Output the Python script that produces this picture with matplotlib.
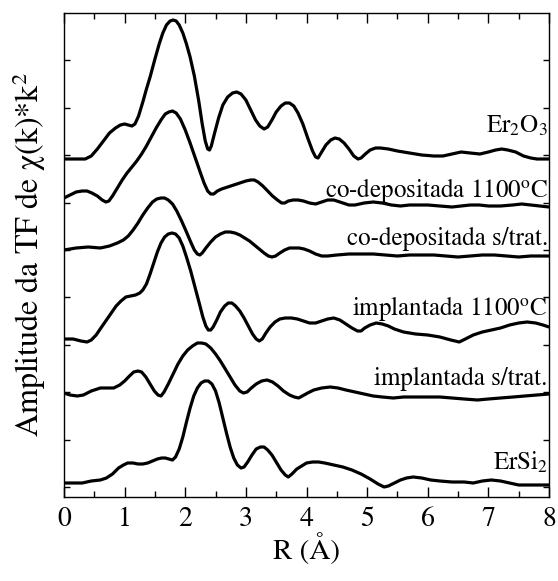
import matplotlib
matplotlib.use("Agg")
import matplotlib.pyplot as plt
from matplotlib.ticker import MultipleLocator, FixedLocator

plt.rcParams['font.family'] = ['STIXGeneral', 'Liberation Serif', 'DejaVu Serif']
plt.rcParams['mathtext.fontset'] = 'stix'

# ---- data (R in Angstrom; amplitudes read as pixel rows, stacked curves) ----
er2o3_r = [0, 0.2, 0.35, 0.45, 0.55, 0.65, 0.75, 0.85, 0.93, 1.0, 1.06, 1.12, 1.17, 1.23, 1.3, 1.36,
           1.42, 1.5, 1.57, 1.63, 1.69, 1.75, 1.8, 1.85, 1.9, 1.96, 2.02, 2.08, 2.15, 2.22, 2.28, 2.33,
           2.37, 2.40, 2.43, 2.48, 2.55, 2.62, 2.7, 2.78, 2.85, 2.92, 3.0, 3.08, 3.16, 3.23, 3.3, 3.36,
           3.43, 3.5, 3.58, 3.65, 3.72, 3.79, 3.86, 3.94, 4.02, 4.1, 4.15, 4.19, 4.24, 4.32, 4.4, 4.47,
           4.54, 4.62, 4.7, 4.78, 4.85, 4.9, 4.97, 5.05, 5.14, 5.22, 5.35, 5.5, 5.7, 5.9, 6.1, 6.25,
           6.4, 6.55, 6.7, 6.86, 7.0, 7.12, 7.22, 7.32, 7.45, 7.58, 7.7, 7.8, 8.0]
er2o3_py = [159, 159, 159, 156, 149, 141, 133, 128, 125, 124, 125, 126, 124, 116, 102, 89,
            77, 59, 44, 33, 25, 21, 20, 21, 25, 33, 44, 57, 76, 100, 124, 141,
            149, 150, 146, 134, 118, 105, 97, 93, 92, 94, 100, 110, 120, 126, 129, 127,
            120, 112, 106, 103, 103, 106, 113, 124, 138, 151, 157, 158, 153, 145, 140, 138,
            139, 143, 149, 156, 159, 158, 154, 150, 148, 148, 149, 151, 153, 155, 156, 156,
            154, 152, 153, 154, 152, 150, 149, 150, 152, 156, 158, 159, 159]

codep1100_r = [0, 0.1, 0.2, 0.3, 0.38, 0.46, 0.55, 0.63, 0.69, 0.74, 0.8, 0.88, 0.96, 1.04, 1.12, 1.2,
               1.28, 1.36, 1.44, 1.52, 1.6, 1.67, 1.73, 1.79, 1.85, 1.92, 2.0, 2.08, 2.16, 2.24, 2.31,
               2.37, 2.42, 2.47, 2.53, 2.6, 2.7, 2.8, 2.9, 3.0, 3.08, 3.14, 3.2, 3.28, 3.36, 3.44, 3.52,
               3.59, 3.64, 3.7, 3.78, 3.86, 3.95, 4.05, 4.15, 4.25, 4.35, 4.45, 4.55, 4.7, 4.8, 4.95,
               5.1, 5.25, 5.4, 5.55, 5.7, 5.85, 6.0, 6.2, 6.4, 6.55, 6.7, 6.85, 7.0, 7.2, 7.4, 7.55,
               7.7, 7.85, 8.0]
codep1100_py = [198, 195, 192, 191, 191, 193, 196, 200, 202, 201, 196, 188, 180, 173, 167, 161,
                154, 146, 137, 128, 120, 114, 112, 111, 113, 119, 130, 143, 157, 171, 183,
                191, 194, 194, 191, 189, 187, 185, 183, 181, 180, 180, 182, 186, 191, 196, 200,
                203, 203, 201, 200, 200, 201, 203, 204, 202, 200, 200, 202, 205, 205, 203,
                202, 203, 205, 206, 205, 205, 205, 206, 207, 206, 205, 205, 206, 206, 205, 204,
                205, 206, 207]

codepst_r = [0, 0.2, 0.4, 0.6, 0.75, 0.88, 0.98, 1.06, 1.14, 1.22, 1.3, 1.38, 1.46, 1.53, 1.6, 1.66,
             1.72, 1.79, 1.86, 1.94, 2.02, 2.09, 2.15, 2.2, 2.24, 2.28, 2.34, 2.42, 2.5, 2.58, 2.66,
             2.74, 2.82, 2.9, 2.98, 3.06, 3.14, 3.22, 3.3, 3.37, 3.43, 3.49, 3.56, 3.64, 3.72, 3.8,
             3.88, 3.96, 4.05, 4.15, 4.25, 4.35, 4.5, 4.7, 4.9, 5.1, 5.3, 5.5, 5.7, 5.9, 6.1, 6.3,
             6.5, 6.7, 6.9, 7.1, 7.3, 7.5, 7.7, 7.85, 8.0]
codepst_py = [250, 248, 247, 248, 246, 243, 240, 236, 230, 223, 215, 208, 202, 199, 198, 198,
              200, 204, 211, 221, 232, 242, 250, 254, 255, 253, 248, 242, 237, 234, 232,
              232, 233, 235, 238, 241, 245, 249, 253, 256, 257, 256, 253, 250, 248, 248,
              248, 249, 251, 254, 256, 256, 255, 254, 254, 254, 255, 256, 255, 255, 255, 256,
              257, 256, 255, 255, 256, 257, 256, 256, 256]

impl1100_r = [0, 0.15, 0.28, 0.38, 0.45, 0.53, 0.62, 0.7, 0.78, 0.86, 0.94, 1.02, 1.1, 1.18, 1.25, 1.3,
              1.36, 1.42, 1.48, 1.54, 1.6, 1.66, 1.72, 1.78, 1.84, 1.9, 1.96, 2.02, 2.09, 2.16, 2.23,
              2.29, 2.34, 2.38, 2.42, 2.46, 2.52, 2.58, 2.65, 2.71, 2.77, 2.83, 2.9, 2.97, 3.04, 3.11,
              3.17, 3.22, 3.27, 3.33, 3.4, 3.48, 3.56, 3.65, 3.75, 3.85, 3.95, 4.05, 4.15, 4.25, 4.35,
              4.45, 4.55, 4.65, 4.75, 4.84, 4.9, 4.96, 5.05, 5.15, 5.25, 5.35, 5.45, 5.6, 5.8, 6.0,
              6.2, 6.38, 6.52, 6.62, 6.75, 6.9, 7.05, 7.2, 7.35, 7.5, 7.64, 7.78, 7.9, 8.0]
impl1100_py = [339, 339, 341, 342, 340, 335, 327, 320, 313, 306, 301, 297, 296, 295, 293, 290,
               284, 274, 263, 252, 243, 237, 234, 233, 234, 238, 246, 257, 271, 287, 303,
               317, 326, 330, 330, 327, 320, 312, 306, 303, 303, 306, 311, 318, 326, 334,
               339, 341, 339, 333, 327, 322, 319, 318, 318, 319, 321, 323, 323, 321, 319,
               318, 320, 324, 328, 331, 331, 328, 325, 323, 324, 326, 329, 332, 334, 335,
               337, 340, 342, 339, 335, 332, 330, 328, 325, 323, 322, 323, 325, 327]

implst_r = [0, 0.1, 0.22, 0.32, 0.45, 0.6, 0.72, 0.82, 0.92, 1.0, 1.08, 1.15, 1.22, 1.28, 1.35, 1.42,
            1.49, 1.55, 1.6, 1.65, 1.72, 1.8, 1.88, 1.96, 2.04, 2.12, 2.2, 2.27, 2.34, 2.42, 2.5,
            2.58, 2.66, 2.74, 2.82, 2.9, 2.96, 3.02, 3.09, 3.17, 3.26, 3.35, 3.44, 3.53, 3.62, 3.72,
            3.8, 3.87, 3.93, 4.02, 4.12, 4.25, 4.39, 4.52, 4.65, 4.8, 4.95, 5.1, 5.25, 5.43, 5.6,
            5.8, 6.0, 6.2, 6.4, 6.6, 6.82, 7.0, 7.2, 7.41, 7.6, 7.8, 8.0]
implst_py = [393, 395, 396, 395, 391, 388, 388, 388, 385, 381, 376, 372, 371, 372, 377, 384,
             391, 395, 396, 392, 384, 374, 364, 356, 350, 346, 343, 343, 344, 348, 354,
             361, 369, 377, 385, 391, 393, 392, 388, 384, 381, 380, 382, 386, 391, 395,
             397, 398, 396, 393, 390, 388, 387, 388, 390, 392, 394, 396, 397, 398, 397,
             397, 397, 397, 398, 399, 400, 399, 398, 397, 396, 395, 394]

ersi2_r = [0, 0.15, 0.3, 0.45, 0.6, 0.7, 0.8, 0.9, 0.98, 1.05, 1.14, 1.22, 1.3, 1.38, 1.46, 1.54, 1.61,
           1.67, 1.73, 1.79, 1.84, 1.9, 1.96, 2.02, 2.08, 2.14, 2.2, 2.26, 2.32, 2.38, 2.44, 2.5, 2.56,
           2.62, 2.68, 2.74, 2.8, 2.86, 2.92, 2.97, 3.03, 3.1, 3.17, 3.24, 3.3, 3.36, 3.43, 3.5, 3.58,
           3.65, 3.7, 3.76, 3.84, 3.92, 4.0, 4.1, 4.2, 4.3, 4.45, 4.6, 4.75, 4.9, 5.05, 5.18, 5.28,
           5.35, 5.45, 5.55, 5.65, 5.76, 5.9, 6.05, 6.2, 6.4, 6.6, 6.75, 6.9, 7.05, 7.2, 7.35, 7.5,
           7.7, 8.0]
ersi2_py = [483, 483, 483, 481, 480, 478, 474, 468, 465, 463, 463, 464, 464, 463, 461, 459, 458,
            458, 459, 460, 457, 449, 437, 422, 408, 396, 388, 383, 381, 381, 384, 391, 403,
            418, 433, 447, 458, 465, 468, 467, 462, 455, 449, 447, 447, 450, 455, 462, 470,
            475, 477, 474, 469, 466, 463, 462, 462, 463, 465, 467, 470, 474, 479, 484, 487,
            486, 483, 480, 478, 477, 478, 480, 481, 482, 482, 483, 481, 480, 481, 483, 485,
            485, 485]

labels = [r'Er$_2$O$_3$', r'co-depositada 1100$^{\rm o}$C', 'co-depositada s/trat.',
          r'implantada 1100$^{\rm o}$C', 'implantada s/trat.', r'ErSi$_2$']
label_base_py = [133, 197, 245, 315, 385, 470]
xticks = [0, 1, 2, 3, 4, 5, 6, 7, 8]

BOTTOM = 497  # pixel row of the x axis, used to turn read-off rows into heights


def h(vals):
    return [BOTTOM - v for v in vals]


series = [(er2o3_r, er2o3_py), (codep1100_r, codep1100_py), (codepst_r, codepst_py),
          (impl1100_r, impl1100_py), (implst_r, implst_py), (ersi2_r, ersi2_py)]

fig = plt.figure(figsize=(5.58, 5.81), dpi=100)
ax = fig.add_axes([64 / 558, 1 - 497 / 581, (549 - 64) / 558, (497 - 13) / 581])

for r, py in series:
    ax.plot(r, h(py), color='black', lw=2.3, solid_joinstyle='round', solid_capstyle='round')

for lab, b in zip(labels, label_base_py):
    ax.text(7.98, BOTTOM - b, lab, ha='right', va='baseline', fontsize=18)

ax.set_xlim(0, 8)
ax.set_ylim(0, 484)
ax.set_xticks(xticks)
ax.xaxis.set_minor_locator(MultipleLocator(0.5))
ax.yaxis.set_major_locator(FixedLocator([10 + 47.4 * k for k in range(10)]))
ax.set_yticklabels([])
ax.tick_params(axis='x', which='major', direction='in', length=7, width=1, top=True,
               labelsize=20, pad=7)
ax.tick_params(axis='x', which='minor', direction='in', length=4, width=1, top=True)
ax.tick_params(axis='y', which='major', direction='in', length=4, width=1, right=True)
for s in ax.spines.values():
    s.set_linewidth(1.0)

ax.set_xlabel('R (Å)', fontsize=21, labelpad=1)
ax.set_ylabel('Amplitude da TF de χ(k)*k$^2$', fontsize=23, labelpad=8)

fig.savefig('out.png', dpi=100)
